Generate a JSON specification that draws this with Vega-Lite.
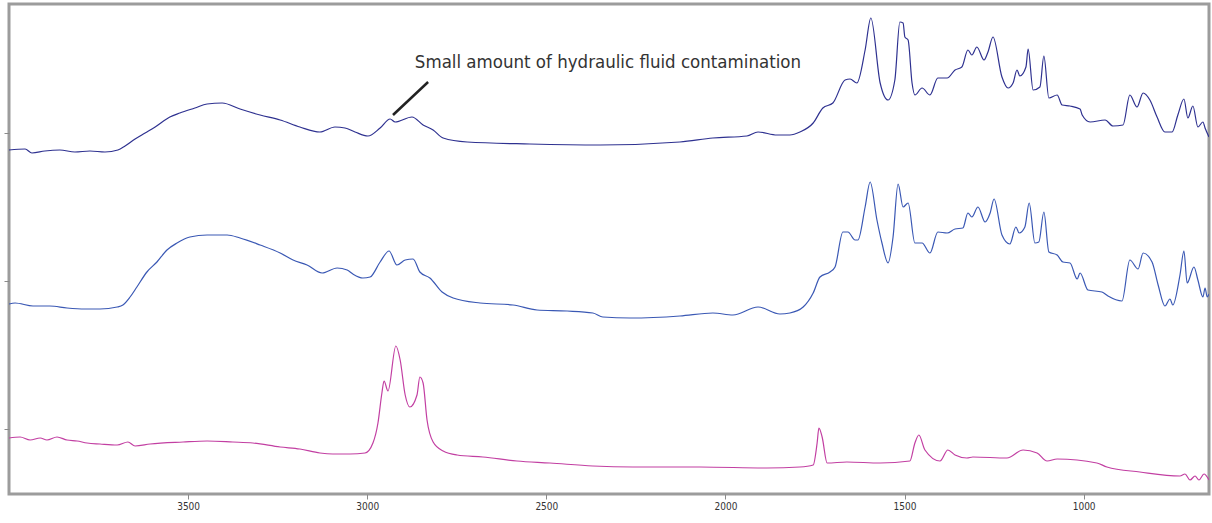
{
  "$schema": "https://vega.github.io/schema/vega-lite/v6.json",
  "width": 1200,
  "height": 490,
  "autosize": {"type": "none"},
  "padding": {"left": 9, "top": 4, "right": 3, "bottom": 29},
  "background": "white",
  "config": {
    "view": {"stroke": "#9c9c9c", "strokeWidth": 3},
    "axis": {"grid": false, "domain": false, "title": null, "tickColor": "#8a8a8a", "tickSize": 5, "tickWidth": 1}
  },
  "datasets": {
    "spectra": [
      {"sample": "top", "wavenumber": 4000, "absorbance": 279},
      {"sample": "top", "wavenumber": 3955, "absorbance": 280},
      {"sample": "top", "wavenumber": 3936, "absorbance": 276},
      {"sample": "top", "wavenumber": 3900, "absorbance": 278},
      {"sample": "top", "wavenumber": 3858, "absorbance": 279},
      {"sample": "top", "wavenumber": 3816, "absorbance": 277},
      {"sample": "top", "wavenumber": 3774, "absorbance": 278},
      {"sample": "top", "wavenumber": 3732, "absorbance": 277},
      {"sample": "top", "wavenumber": 3696, "absorbance": 279},
      {"sample": "top", "wavenumber": 3676, "absorbance": 283},
      {"sample": "top", "wavenumber": 3648, "absorbance": 290},
      {"sample": "top", "wavenumber": 3620, "absorbance": 296},
      {"sample": "top", "wavenumber": 3592, "absorbance": 302},
      {"sample": "top", "wavenumber": 3551, "absorbance": 312},
      {"sample": "top", "wavenumber": 3523, "absorbance": 316},
      {"sample": "top", "wavenumber": 3481, "absorbance": 321},
      {"sample": "top", "wavenumber": 3447, "absorbance": 325},
      {"sample": "top", "wavenumber": 3405, "absorbance": 326},
      {"sample": "top", "wavenumber": 3355, "absorbance": 320},
      {"sample": "top", "wavenumber": 3299, "absorbance": 314},
      {"sample": "top", "wavenumber": 3243, "absorbance": 309},
      {"sample": "top", "wavenumber": 3188, "absorbance": 302},
      {"sample": "top", "wavenumber": 3132, "absorbance": 297},
      {"sample": "top", "wavenumber": 3090, "absorbance": 302},
      {"sample": "top", "wavenumber": 3062, "absorbance": 301},
      {"sample": "top", "wavenumber": 3034, "absorbance": 297},
      {"sample": "top", "wavenumber": 2998, "absorbance": 293},
      {"sample": "top", "wavenumber": 2964, "absorbance": 301},
      {"sample": "top", "wavenumber": 2936, "absorbance": 310},
      {"sample": "top", "wavenumber": 2922, "absorbance": 307},
      {"sample": "top", "wavenumber": 2875, "absorbance": 312},
      {"sample": "top", "wavenumber": 2844, "absorbance": 304},
      {"sample": "top", "wavenumber": 2816, "absorbance": 299},
      {"sample": "top", "wavenumber": 2788, "absorbance": 291},
      {"sample": "top", "wavenumber": 2721, "absorbance": 287},
      {"sample": "top", "wavenumber": 2546, "absorbance": 285},
      {"sample": "top", "wavenumber": 2350, "absorbance": 284},
      {"sample": "top", "wavenumber": 2127, "absorbance": 287},
      {"sample": "top", "wavenumber": 2035, "absorbance": 291},
      {"sample": "top", "wavenumber": 1940, "absorbance": 293},
      {"sample": "top", "wavenumber": 1909, "absorbance": 297},
      {"sample": "top", "wavenumber": 1856, "absorbance": 294},
      {"sample": "top", "wavenumber": 1820, "absorbance": 294},
      {"sample": "top", "wavenumber": 1792, "absorbance": 297},
      {"sample": "top", "wavenumber": 1755, "absorbance": 306},
      {"sample": "top", "wavenumber": 1728, "absorbance": 321},
      {"sample": "top", "wavenumber": 1700, "absorbance": 326},
      {"sample": "top", "wavenumber": 1666, "absorbance": 349},
      {"sample": "top", "wavenumber": 1652, "absorbance": 350},
      {"sample": "top", "wavenumber": 1633, "absorbance": 346},
      {"sample": "top", "wavenumber": 1610, "absorbance": 379},
      {"sample": "top", "wavenumber": 1594, "absorbance": 411},
      {"sample": "top", "wavenumber": 1568, "absorbance": 346},
      {"sample": "top", "wavenumber": 1546, "absorbance": 329},
      {"sample": "top", "wavenumber": 1527, "absorbance": 349},
      {"sample": "top", "wavenumber": 1513, "absorbance": 407},
      {"sample": "top", "wavenumber": 1504, "absorbance": 406},
      {"sample": "top", "wavenumber": 1499, "absorbance": 392},
      {"sample": "top", "wavenumber": 1490, "absorbance": 389},
      {"sample": "top", "wavenumber": 1479, "absorbance": 346},
      {"sample": "top", "wavenumber": 1471, "absorbance": 334},
      {"sample": "top", "wavenumber": 1451, "absorbance": 341},
      {"sample": "top", "wavenumber": 1429, "absorbance": 334},
      {"sample": "top", "wavenumber": 1407, "absorbance": 351},
      {"sample": "top", "wavenumber": 1381, "absorbance": 351},
      {"sample": "top", "wavenumber": 1359, "absorbance": 359},
      {"sample": "top", "wavenumber": 1340, "absorbance": 362},
      {"sample": "top", "wavenumber": 1323, "absorbance": 379},
      {"sample": "top", "wavenumber": 1312, "absorbance": 374},
      {"sample": "top", "wavenumber": 1298, "absorbance": 382},
      {"sample": "top", "wavenumber": 1278, "absorbance": 369},
      {"sample": "top", "wavenumber": 1267, "absorbance": 377},
      {"sample": "top", "wavenumber": 1253, "absorbance": 392},
      {"sample": "top", "wavenumber": 1228, "absorbance": 352},
      {"sample": "top", "wavenumber": 1211, "absorbance": 341},
      {"sample": "top", "wavenumber": 1197, "absorbance": 346},
      {"sample": "top", "wavenumber": 1186, "absorbance": 359},
      {"sample": "top", "wavenumber": 1178, "absorbance": 353},
      {"sample": "top", "wavenumber": 1161, "absorbance": 362},
      {"sample": "top", "wavenumber": 1155, "absorbance": 380},
      {"sample": "top", "wavenumber": 1141, "absorbance": 339},
      {"sample": "top", "wavenumber": 1122, "absorbance": 342},
      {"sample": "top", "wavenumber": 1111, "absorbance": 373},
      {"sample": "top", "wavenumber": 1097, "absorbance": 331},
      {"sample": "top", "wavenumber": 1074, "absorbance": 334},
      {"sample": "top", "wavenumber": 1060, "absorbance": 324},
      {"sample": "top", "wavenumber": 1038, "absorbance": 323},
      {"sample": "top", "wavenumber": 1010, "absorbance": 320},
      {"sample": "top", "wavenumber": 1004, "absorbance": 314},
      {"sample": "top", "wavenumber": 982, "absorbance": 307},
      {"sample": "top", "wavenumber": 940, "absorbance": 309},
      {"sample": "top", "wavenumber": 918, "absorbance": 303},
      {"sample": "top", "wavenumber": 890, "absorbance": 304},
      {"sample": "top", "wavenumber": 871, "absorbance": 334},
      {"sample": "top", "wavenumber": 851, "absorbance": 322},
      {"sample": "top", "wavenumber": 834, "absorbance": 336},
      {"sample": "top", "wavenumber": 815, "absorbance": 329},
      {"sample": "top", "wavenumber": 795, "absorbance": 312},
      {"sample": "top", "wavenumber": 773, "absorbance": 297},
      {"sample": "top", "wavenumber": 753, "absorbance": 297},
      {"sample": "top", "wavenumber": 737, "absorbance": 314},
      {"sample": "top", "wavenumber": 720, "absorbance": 330},
      {"sample": "top", "wavenumber": 709, "absorbance": 311},
      {"sample": "top", "wavenumber": 695, "absorbance": 323},
      {"sample": "top", "wavenumber": 681, "absorbance": 302},
      {"sample": "top", "wavenumber": 667, "absorbance": 307},
      {"sample": "top", "wavenumber": 661, "absorbance": 301},
      {"sample": "top", "wavenumber": 650, "absorbance": 292},

      {"sample": "middle", "wavenumber": 4000, "absorbance": 125},
      {"sample": "middle", "wavenumber": 3983, "absorbance": 126},
      {"sample": "middle", "wavenumber": 3933, "absorbance": 123},
      {"sample": "middle", "wavenumber": 3886, "absorbance": 123},
      {"sample": "middle", "wavenumber": 3838, "absorbance": 121},
      {"sample": "middle", "wavenumber": 3788, "absorbance": 120},
      {"sample": "middle", "wavenumber": 3746, "absorbance": 120},
      {"sample": "middle", "wavenumber": 3698, "absorbance": 122},
      {"sample": "middle", "wavenumber": 3682, "absorbance": 124},
      {"sample": "middle", "wavenumber": 3662, "absorbance": 132},
      {"sample": "middle", "wavenumber": 3643, "absorbance": 142},
      {"sample": "middle", "wavenumber": 3615, "absorbance": 157},
      {"sample": "middle", "wavenumber": 3587, "absorbance": 167},
      {"sample": "middle", "wavenumber": 3559, "absorbance": 179},
      {"sample": "middle", "wavenumber": 3531, "absorbance": 186},
      {"sample": "middle", "wavenumber": 3495, "absorbance": 192},
      {"sample": "middle", "wavenumber": 3447, "absorbance": 194},
      {"sample": "middle", "wavenumber": 3391, "absorbance": 194},
      {"sample": "middle", "wavenumber": 3355, "absorbance": 191},
      {"sample": "middle", "wavenumber": 3299, "absorbance": 184},
      {"sample": "middle", "wavenumber": 3243, "absorbance": 176},
      {"sample": "middle", "wavenumber": 3207, "absorbance": 169},
      {"sample": "middle", "wavenumber": 3168, "absorbance": 164},
      {"sample": "middle", "wavenumber": 3126, "absorbance": 156},
      {"sample": "middle", "wavenumber": 3084, "absorbance": 161},
      {"sample": "middle", "wavenumber": 3056, "absorbance": 159},
      {"sample": "middle", "wavenumber": 3040, "absorbance": 155},
      {"sample": "middle", "wavenumber": 3012, "absorbance": 151},
      {"sample": "middle", "wavenumber": 2992, "absorbance": 152},
      {"sample": "middle", "wavenumber": 2964, "absorbance": 167},
      {"sample": "middle", "wavenumber": 2939, "absorbance": 178},
      {"sample": "middle", "wavenumber": 2917, "absorbance": 164},
      {"sample": "middle", "wavenumber": 2894, "absorbance": 169},
      {"sample": "middle", "wavenumber": 2872, "absorbance": 170},
      {"sample": "middle", "wavenumber": 2853, "absorbance": 157},
      {"sample": "middle", "wavenumber": 2825, "absorbance": 151},
      {"sample": "middle", "wavenumber": 2791, "absorbance": 137},
      {"sample": "middle", "wavenumber": 2760, "absorbance": 131},
      {"sample": "middle", "wavenumber": 2685, "absorbance": 126},
      {"sample": "middle", "wavenumber": 2593, "absorbance": 124},
      {"sample": "middle", "wavenumber": 2526, "absorbance": 119},
      {"sample": "middle", "wavenumber": 2442, "absorbance": 118},
      {"sample": "middle", "wavenumber": 2370, "absorbance": 116},
      {"sample": "middle", "wavenumber": 2342, "absorbance": 112},
      {"sample": "middle", "wavenumber": 2266, "absorbance": 111},
      {"sample": "middle", "wavenumber": 2127, "absorbance": 113},
      {"sample": "middle", "wavenumber": 2035, "absorbance": 116},
      {"sample": "middle", "wavenumber": 1979, "absorbance": 114},
      {"sample": "middle", "wavenumber": 1909, "absorbance": 122},
      {"sample": "middle", "wavenumber": 1848, "absorbance": 115},
      {"sample": "middle", "wavenumber": 1820, "absorbance": 116},
      {"sample": "middle", "wavenumber": 1783, "absorbance": 122},
      {"sample": "middle", "wavenumber": 1755, "absorbance": 136},
      {"sample": "middle", "wavenumber": 1736, "absorbance": 152},
      {"sample": "middle", "wavenumber": 1708, "absorbance": 157},
      {"sample": "middle", "wavenumber": 1694, "absorbance": 162},
      {"sample": "middle", "wavenumber": 1672, "absorbance": 197},
      {"sample": "middle", "wavenumber": 1658, "absorbance": 197},
      {"sample": "middle", "wavenumber": 1638, "absorbance": 189},
      {"sample": "middle", "wavenumber": 1630, "absorbance": 189},
      {"sample": "middle", "wavenumber": 1610, "absorbance": 222},
      {"sample": "middle", "wavenumber": 1596, "absorbance": 247},
      {"sample": "middle", "wavenumber": 1577, "absorbance": 209},
      {"sample": "middle", "wavenumber": 1563, "absorbance": 186},
      {"sample": "middle", "wavenumber": 1546, "absorbance": 166},
      {"sample": "middle", "wavenumber": 1532, "absorbance": 192},
      {"sample": "middle", "wavenumber": 1518, "absorbance": 245},
      {"sample": "middle", "wavenumber": 1504, "absorbance": 222},
      {"sample": "middle", "wavenumber": 1490, "absorbance": 226},
      {"sample": "middle", "wavenumber": 1471, "absorbance": 186},
      {"sample": "middle", "wavenumber": 1451, "absorbance": 186},
      {"sample": "middle", "wavenumber": 1429, "absorbance": 176},
      {"sample": "middle", "wavenumber": 1407, "absorbance": 197},
      {"sample": "middle", "wavenumber": 1381, "absorbance": 196},
      {"sample": "middle", "wavenumber": 1359, "absorbance": 200},
      {"sample": "middle", "wavenumber": 1337, "absorbance": 201},
      {"sample": "middle", "wavenumber": 1323, "absorbance": 216},
      {"sample": "middle", "wavenumber": 1312, "absorbance": 212},
      {"sample": "middle", "wavenumber": 1295, "absorbance": 222},
      {"sample": "middle", "wavenumber": 1275, "absorbance": 207},
      {"sample": "middle", "wavenumber": 1261, "absorbance": 216},
      {"sample": "middle", "wavenumber": 1250, "absorbance": 230},
      {"sample": "middle", "wavenumber": 1228, "absorbance": 194},
      {"sample": "middle", "wavenumber": 1206, "absorbance": 185},
      {"sample": "middle", "wavenumber": 1189, "absorbance": 202},
      {"sample": "middle", "wavenumber": 1180, "absorbance": 196},
      {"sample": "middle", "wavenumber": 1164, "absorbance": 202},
      {"sample": "middle", "wavenumber": 1152, "absorbance": 226},
      {"sample": "middle", "wavenumber": 1136, "absorbance": 186},
      {"sample": "middle", "wavenumber": 1125, "absorbance": 187},
      {"sample": "middle", "wavenumber": 1111, "absorbance": 217},
      {"sample": "middle", "wavenumber": 1097, "absorbance": 177},
      {"sample": "middle", "wavenumber": 1074, "absorbance": 174},
      {"sample": "middle", "wavenumber": 1058, "absorbance": 167},
      {"sample": "middle", "wavenumber": 1038, "absorbance": 166},
      {"sample": "middle", "wavenumber": 1018, "absorbance": 150},
      {"sample": "middle", "wavenumber": 1010, "absorbance": 156},
      {"sample": "middle", "wavenumber": 988, "absorbance": 139},
      {"sample": "middle", "wavenumber": 949, "absorbance": 137},
      {"sample": "middle", "wavenumber": 932, "absorbance": 133},
      {"sample": "middle", "wavenumber": 893, "absorbance": 128},
      {"sample": "middle", "wavenumber": 871, "absorbance": 169},
      {"sample": "middle", "wavenumber": 848, "absorbance": 160},
      {"sample": "middle", "wavenumber": 834, "absorbance": 176},
      {"sample": "middle", "wavenumber": 809, "absorbance": 167},
      {"sample": "middle", "wavenumber": 792, "absorbance": 144},
      {"sample": "middle", "wavenumber": 773, "absorbance": 123},
      {"sample": "middle", "wavenumber": 759, "absorbance": 130},
      {"sample": "middle", "wavenumber": 751, "absorbance": 124},
      {"sample": "middle", "wavenumber": 731, "absorbance": 154},
      {"sample": "middle", "wavenumber": 720, "absorbance": 178},
      {"sample": "middle", "wavenumber": 711, "absorbance": 146},
      {"sample": "middle", "wavenumber": 692, "absorbance": 162},
      {"sample": "middle", "wavenumber": 681, "absorbance": 149},
      {"sample": "middle", "wavenumber": 667, "absorbance": 132},
      {"sample": "middle", "wavenumber": 661, "absorbance": 141},
      {"sample": "middle", "wavenumber": 655, "absorbance": 132},
      {"sample": "middle", "wavenumber": 650, "absorbance": 135},

      {"sample": "bottom", "wavenumber": 4000, "absorbance": -9},
      {"sample": "bottom", "wavenumber": 3969, "absorbance": -8},
      {"sample": "bottom", "wavenumber": 3941, "absorbance": -11},
      {"sample": "bottom", "wavenumber": 3913, "absorbance": -9},
      {"sample": "bottom", "wavenumber": 3894, "absorbance": -11},
      {"sample": "bottom", "wavenumber": 3866, "absorbance": -8},
      {"sample": "bottom", "wavenumber": 3838, "absorbance": -11},
      {"sample": "bottom", "wavenumber": 3810, "absorbance": -12},
      {"sample": "bottom", "wavenumber": 3782, "absorbance": -14},
      {"sample": "bottom", "wavenumber": 3746, "absorbance": -15},
      {"sample": "bottom", "wavenumber": 3698, "absorbance": -16},
      {"sample": "bottom", "wavenumber": 3668, "absorbance": -13},
      {"sample": "bottom", "wavenumber": 3648, "absorbance": -17},
      {"sample": "bottom", "wavenumber": 3606, "absorbance": -15},
      {"sample": "bottom", "wavenumber": 3514, "absorbance": -13},
      {"sample": "bottom", "wavenumber": 3447, "absorbance": -12},
      {"sample": "bottom", "wavenumber": 3375, "absorbance": -13},
      {"sample": "bottom", "wavenumber": 3319, "absorbance": -14},
      {"sample": "bottom", "wavenumber": 3243, "absorbance": -18},
      {"sample": "bottom", "wavenumber": 3188, "absorbance": -20},
      {"sample": "bottom", "wavenumber": 3132, "absorbance": -24},
      {"sample": "bottom", "wavenumber": 3096, "absorbance": -25},
      {"sample": "bottom", "wavenumber": 3048, "absorbance": -25},
      {"sample": "bottom", "wavenumber": 3006, "absorbance": -24},
      {"sample": "bottom", "wavenumber": 2984, "absorbance": -14},
      {"sample": "bottom", "wavenumber": 2970, "absorbance": 6},
      {"sample": "bottom", "wavenumber": 2959, "absorbance": 36},
      {"sample": "bottom", "wavenumber": 2953, "absorbance": 48},
      {"sample": "bottom", "wavenumber": 2942, "absorbance": 38},
      {"sample": "bottom", "wavenumber": 2920, "absorbance": 83},
      {"sample": "bottom", "wavenumber": 2908, "absorbance": 69},
      {"sample": "bottom", "wavenumber": 2894, "absorbance": 34},
      {"sample": "bottom", "wavenumber": 2881, "absorbance": 22},
      {"sample": "bottom", "wavenumber": 2861, "absorbance": 34},
      {"sample": "bottom", "wavenumber": 2853, "absorbance": 52},
      {"sample": "bottom", "wavenumber": 2844, "absorbance": 46},
      {"sample": "bottom", "wavenumber": 2833, "absorbance": 9},
      {"sample": "bottom", "wavenumber": 2816, "absorbance": -13},
      {"sample": "bottom", "wavenumber": 2788, "absorbance": -22},
      {"sample": "bottom", "wavenumber": 2749, "absorbance": -26},
      {"sample": "bottom", "wavenumber": 2677, "absorbance": -28},
      {"sample": "bottom", "wavenumber": 2582, "absorbance": -32},
      {"sample": "bottom", "wavenumber": 2490, "absorbance": -34},
      {"sample": "bottom", "wavenumber": 2370, "absorbance": -37},
      {"sample": "bottom", "wavenumber": 2258, "absorbance": -38},
      {"sample": "bottom", "wavenumber": 2071, "absorbance": -38},
      {"sample": "bottom", "wavenumber": 1884, "absorbance": -39},
      {"sample": "bottom", "wavenumber": 1792, "absorbance": -38},
      {"sample": "bottom", "wavenumber": 1755, "absorbance": -36},
      {"sample": "bottom", "wavenumber": 1744, "absorbance": -14},
      {"sample": "bottom", "wavenumber": 1739, "absorbance": 1},
      {"sample": "bottom", "wavenumber": 1730, "absorbance": -8},
      {"sample": "bottom", "wavenumber": 1716, "absorbance": -34},
      {"sample": "bottom", "wavenumber": 1661, "absorbance": -33},
      {"sample": "bottom", "wavenumber": 1568, "absorbance": -34},
      {"sample": "bottom", "wavenumber": 1485, "absorbance": -32},
      {"sample": "bottom", "wavenumber": 1471, "absorbance": -14},
      {"sample": "bottom", "wavenumber": 1460, "absorbance": -6},
      {"sample": "bottom", "wavenumber": 1443, "absorbance": -21},
      {"sample": "bottom", "wavenumber": 1401, "absorbance": -32},
      {"sample": "bottom", "wavenumber": 1379, "absorbance": -21},
      {"sample": "bottom", "wavenumber": 1359, "absorbance": -26},
      {"sample": "bottom", "wavenumber": 1326, "absorbance": -29},
      {"sample": "bottom", "wavenumber": 1309, "absorbance": -28},
      {"sample": "bottom", "wavenumber": 1214, "absorbance": -29},
      {"sample": "bottom", "wavenumber": 1169, "absorbance": -21},
      {"sample": "bottom", "wavenumber": 1130, "absorbance": -24},
      {"sample": "bottom", "wavenumber": 1102, "absorbance": -32},
      {"sample": "bottom", "wavenumber": 1074, "absorbance": -30},
      {"sample": "bottom", "wavenumber": 963, "absorbance": -34},
      {"sample": "bottom", "wavenumber": 935, "absorbance": -38},
      {"sample": "bottom", "wavenumber": 843, "absorbance": -43},
      {"sample": "bottom", "wavenumber": 731, "absorbance": -47},
      {"sample": "bottom", "wavenumber": 717, "absorbance": -45},
      {"sample": "bottom", "wavenumber": 703, "absorbance": -51},
      {"sample": "bottom", "wavenumber": 689, "absorbance": -47},
      {"sample": "bottom", "wavenumber": 678, "absorbance": -51},
      {"sample": "bottom", "wavenumber": 664, "absorbance": -45},
      {"sample": "bottom", "wavenumber": 650, "absorbance": -51}
    ],
    "note": [
      {"label": "Small amount of hydraulic fluid contamination", "wavenumber": 2867, "absorbance": 367, "tip_w": 2928, "tip_a": 314, "end_w": 2830, "end_a": 347}
    ]
  },
  "layer": [
    {
      "data": {"name": "spectra"},
      "mark": {"type": "line", "strokeWidth": 1.2, "clip": true, "interpolate": "monotone"},
      "encoding": {
        "x": {
          "field": "wavenumber", "type": "quantitative",
          "scale": {"domain": [4000, 650], "nice": false, "zero": false},
          "axis": {"values": [3500, 3000, 2500, 2000, 1500, 1000], "format": "d", "labelFont": "Liberation Sans Narrow, DejaVu Sans Condensed, sans-serif", "labelFontSize": 10, "labelColor": "#333333", "labelPadding": 2}
        },
        "y": {
          "field": "absorbance", "type": "quantitative",
          "scale": {"domain": [-65, 425], "nice": false, "zero": false},
          "axis": {"values": [0, 148, 296], "labels": false}
        },
        "color": {
          "field": "sample", "type": "nominal",
          "scale": {"domain": ["top", "middle", "bottom"], "range": ["#2e3190", "#3a58b4", "#c23fa2"]},
          "legend": null
        }
      }
    },
    {
      "data": {"name": "note"},
      "mark": {"type": "rule", "stroke": "#222222", "strokeWidth": 2.5},
      "encoding": {
        "x": {"field": "tip_w", "type": "quantitative"},
        "y": {"field": "tip_a", "type": "quantitative"},
        "x2": {"field": "end_w"},
        "y2": {"field": "end_a"}
      }
    },
    {
      "data": {"name": "note"},
      "mark": {"type": "text", "align": "left", "baseline": "middle", "font": "Liberation Sans Narrow, DejaVu Sans Condensed, sans-serif", "fontSize": 18.5, "color": "#333333"},
      "encoding": {
        "x": {"field": "wavenumber", "type": "quantitative"},
        "y": {"field": "absorbance", "type": "quantitative"},
        "text": {"field": "label"}
      }
    }
  ]
}
